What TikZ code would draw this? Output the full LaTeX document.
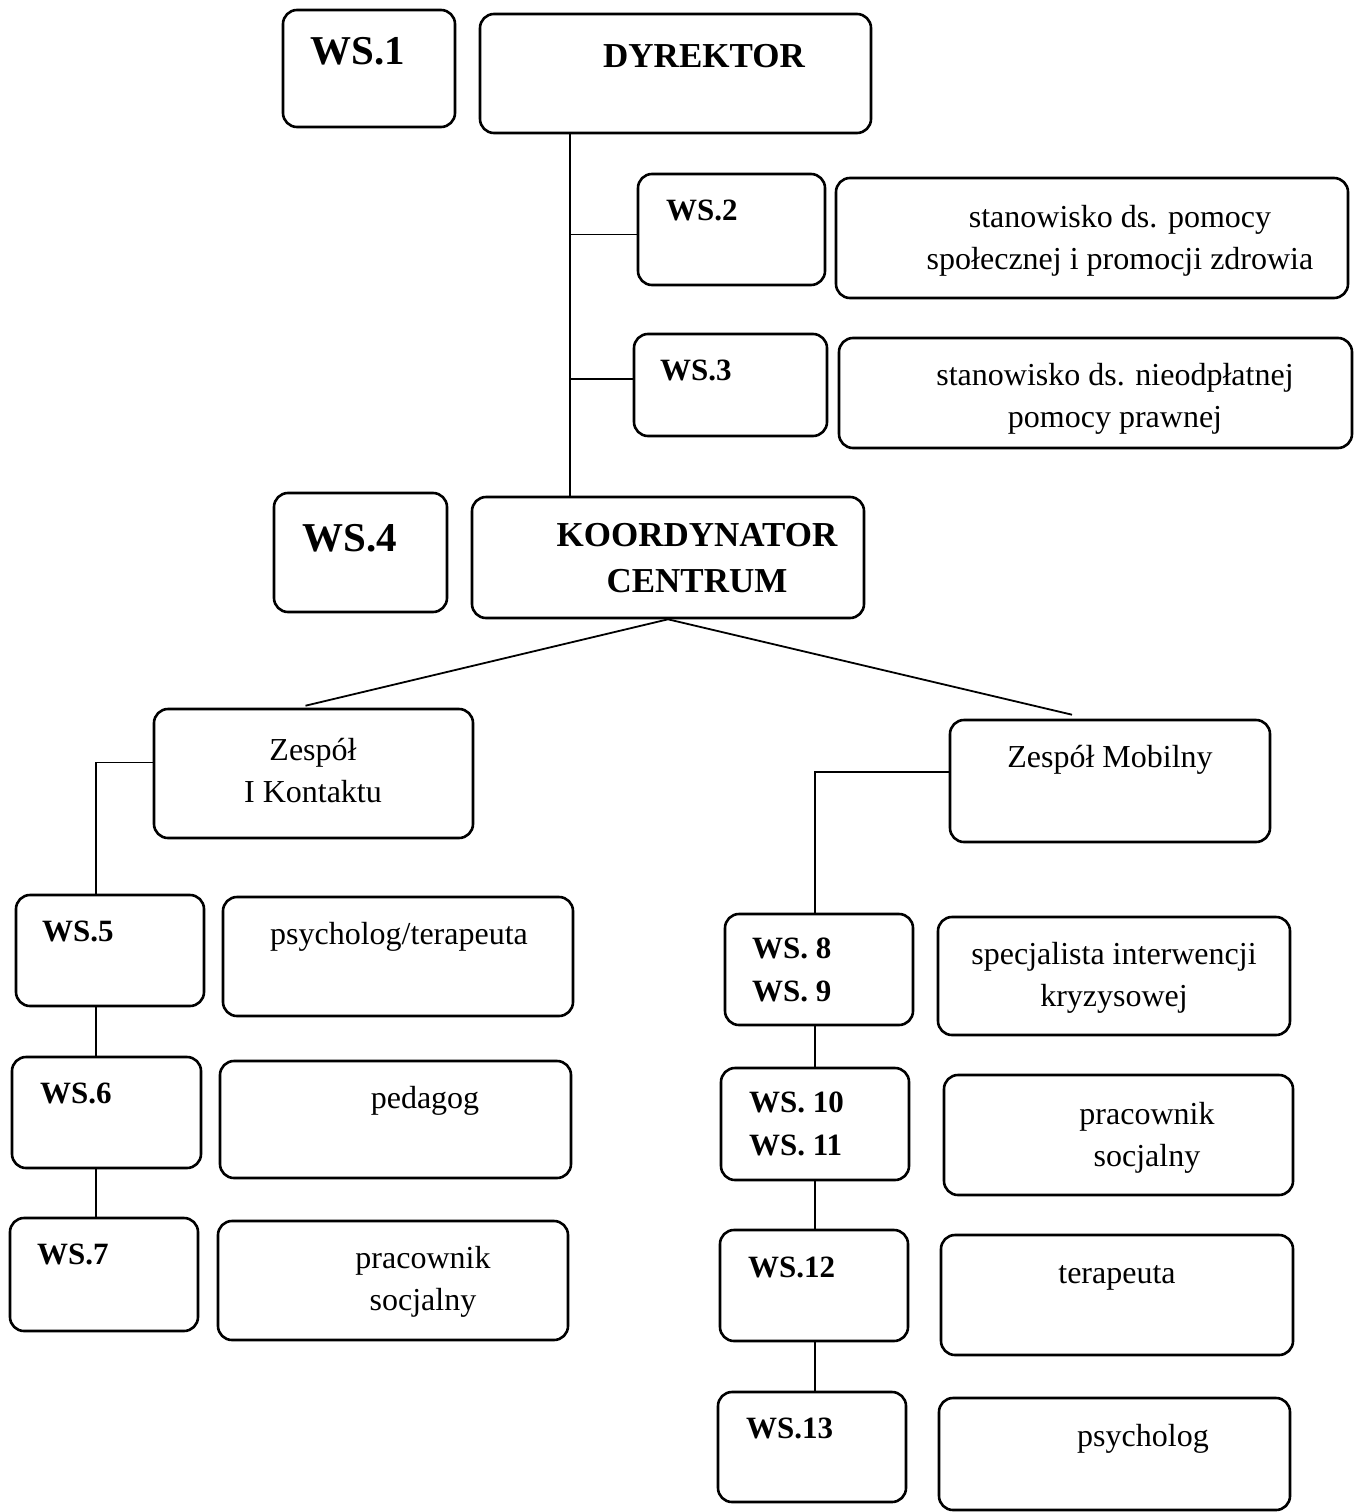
\documentclass[tikz,border=0pt]{standalone}
\usepackage{fontspec}
\setmainfont{Liberation Serif}
\usepackage{tikz}
\usetikzlibrary{positioning}
\tikzset{box/.style={draw, line width=2.6pt, rounded corners=14pt, inner sep=0pt},
  conn/.style={line width=1.8pt},
  wsbig/.style={anchor=base west, inner sep=0pt, font=\bfseries\fontsize{41}{46}\selectfont},
  wstxt/.style={inner sep=0pt, align=left, font=\bfseries\fontsize{31}{43}\selectfont},
  head/.style={inner sep=0pt, align=center, font=\bfseries\fontsize{35}{46}\selectfont},
  job/.style={inner sep=0pt, align=center, font=\fontsize{32}{42}\selectfont}}

\begin{document}
\begin{tikzpicture}[x=1pt, y=-1pt]
            \useasboundingbox (0,0) rectangle (1362,1512);
            % top
            \node[box, minimum width=172, minimum height=117] (ws1) at (369,68.5) {};
            \node[box, minimum width=391, minimum height=119] (dyrektor) at (675.5,73.5) {};
            \node[box, minimum width=187, minimum height=111] (ws2) at (731.5,229.5) {};
            \node[box, minimum width=512, minimum height=120] (pomoc) at (1092,238) {};
            \node[box, minimum width=193, minimum height=102] (ws3) at (730.5,385) {};
            \node[box, minimum width=513, minimum height=110] (prawna) at (1095.5,393) {};
            \node[box, minimum width=173, minimum height=119] (ws4) at (360.5,552.5) {};
            \node[box, minimum width=392, minimum height=121] (koordynator) at (668,557.5) {};
            % zespoly
            \node[box, minimum width=319, minimum height=129] (kontakt) at (313.5,773.5) {};
            \node[box, minimum width=320, minimum height=122] (mobilny) at (1110,781) {};
            % lewa kolumna
            \node[box, minimum width=188, minimum height=111] (ws5) at (110,950.5) {};
            \node[box, minimum width=350, minimum height=119] (psychter) at (398,956.5) {};
            \node[box, minimum width=189, minimum height=111] (ws6) at (106.5,1112.5) {};
            \node[box, minimum width=351, minimum height=117] (pedagog) at (395.5,1119.5) {};
            \node[box, minimum width=188, minimum height=113] (ws7) at (104,1274.5) {};
            \node[box, minimum width=350, minimum height=119] (socjalnyL) at (393,1280.5) {};
            % prawa kolumna
            \node[box, minimum width=188, minimum height=111] (ws8) at (819,969.5) {};
            \node[box, minimum width=352, minimum height=118] (kryzys) at (1114,976) {};
            \node[box, minimum width=188, minimum height=112] (ws10) at (815,1124) {};
            \node[box, minimum width=349, minimum height=120] (socjalnyR) at (1118.5,1135) {};
            \node[box, minimum width=188, minimum height=111] (ws12) at (814,1285.5) {};
            \node[box, minimum width=352, minimum height=120] (terapeuta) at (1117,1295) {};
            \node[box, minimum width=188, minimum height=110] (ws13) at (812,1447) {};
            \node[box, minimum width=351, minimum height=112] (psycholog) at (1114.5,1454) {};

            % napisy
            \node[wsbig] (ws1-t) at (310,65) {WS.1};
            \node[head, anchor=base] (dyrektor-t) at (704,67) {DYREKTOR};
            \node[wstxt, anchor=base west] (ws2-t) at (666,220) {WS.2};
            \node[job] (pomoc-t) at (1120,241) {stanowisko ds. pomocy\\społecznej i promocji zdrowia};
            \node[wstxt, anchor=base west] (ws3-t) at (660,380) {WS.3};
            \node[job] (prawna-t) at (1115,398.5) {stanowisko ds. nieodpłatnej\\pomocy prawnej};
            \node[wsbig] (ws4-t) at (302,551) {WS.4};
            \node[head] (koordynator-t) at (697,558.5) {KOORDYNATOR\\CENTRUM};
            \node[job] (kontakt-t) at (313,771) {Zespół\\I Kontaktu};
            \node[job, anchor=base] (mobilny-t) at (1110,767) {Zespół Mobilny};
            \node[wstxt, anchor=base west] (ws5-t) at (42,941) {WS.5};
            \node[job, anchor=base] (psychter-t) at (399,944) {psycholog/terapeuta};
            \node[wstxt, anchor=base west] (ws6-t) at (40,1103) {WS.6};
            \node[job, anchor=base] (pedagog-t) at (425,1108) {pedagog};
            \node[wstxt, anchor=base west] (ws7-t) at (37,1264) {WS.7};
            \node[job] (socjalnyL-t) at (423,1281.5) {pracownik\\socjalny};
            \node[wstxt, anchor=west] (ws8-t) at (752,970) {WS. 8\\WS. 9};
            \node[job] (kryzys-t) at (1114,977.5) {specjalista interwencji\\kryzysowej};
            \node[wstxt, anchor=west] (ws10-t) at (749,1124) {WS. 10\\WS. 11};
            \node[job] (socjalnyR-t) at (1147,1137.5) {pracownik\\socjalny};
            \node[wstxt, anchor=base west] (ws12-t) at (748,1277) {WS.12};
            \node[job, anchor=base] (terapeuta-t) at (1117,1283) {terapeuta};
            \node[wstxt, anchor=base west] (ws13-t) at (746,1438) {WS.13};
            \node[job, anchor=base] (psycholog-t) at (1143,1446) {psycholog};

            % linie
            \coordinate (trunk) at (570,0);
            \coordinate (colL) at (96,0);
            \coordinate (colR) at (815,0);
            \draw[conn] (dyrektor.south -| trunk) -- (koordynator.north -| trunk);
            \draw[conn] ([yshift=-5]ws2.west -| trunk) -- ([yshift=-5]ws2.west);
            \draw[conn] ([yshift=6]ws3.west -| trunk) -- ([yshift=6]ws3.west);
            \draw[conn] (koordynator.south) -- ([xshift=-8, yshift=2]kontakt.north);
            \draw[conn] (koordynator.south) -- ([xshift=-38, yshift=4]mobilny.north);
            \draw[conn] ([yshift=11]kontakt.west) -| (ws5.north -| colL);
            \draw[conn] (ws5.south -| colL) -- (ws6.north -| colL);
            \draw[conn] (ws6.south -| colL) -- (ws7.north -| colL);
            \draw[conn] ([yshift=9]mobilny.west) -| (ws8.north -| colR);
            \draw[conn] (ws8.south -| colR) -- (ws10.north -| colR);
            \draw[conn] (ws10.south -| colR) -- (ws12.north -| colR);
            \draw[conn] (ws12.south -| colR) -- (ws13.north -| colR);
      \end{tikzpicture}
\end{document}
